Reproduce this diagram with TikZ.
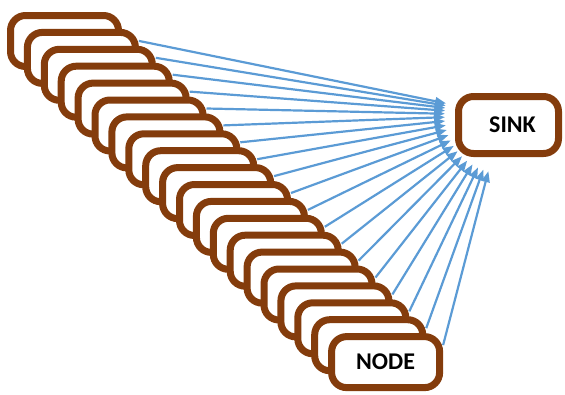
\documentclass[tikz,border=0pt]{standalone}
\usepackage{fontspec}
\setmainfont{Carlito}
\usetikzlibrary{arrows.meta}
\definecolor{boxbrown}{HTML}{843C0C}
\definecolor{arrblue}{HTML}{5B9BD5}
\tikzset{
  stackbox/.style={draw=boxbrown, line width=7pt, fill=white, rounded corners=15pt,
    minimum width=108pt, minimum height=51pt, inner sep=0pt, font=\bfseries\fontsize{24}{26}\selectfont},
  sinkbox/.style={draw=boxbrown, line width=7pt, fill=white, rounded corners=15pt,
    minimum width=100pt, minimum height=57pt, inner sep=0pt, font=\bfseries\fontsize{24}{26}\selectfont},
  arr/.style={draw=arrblue, line width=2.2pt, -{Triangle[length=11pt,width=8pt]}, shorten >=58pt}
}
\begin{document}
\begin{tikzpicture}[x=1pt,y=-1pt]
\useasboundingbox (0,0) rectangle (565,394);
\coordinate (aim) at (503,115);
\foreach \i in {1,...,19}{
  \draw[arr] ({64.5+16.9*\i+57.5},{41+16.9*\i-17}) -- (aim);
}
\foreach \i in {0,...,18}{
  \node[stackbox] (b\i) at ({64.5+16.9*\i},{41+16.9*\i}) {};
}
\node[stackbox] (b19) at ({64.5+16.9*19},{41+16.9*19}) {\raisebox{-2pt}{NODE}};
\node[sinkbox] (sink) at (508.5,125) {\hspace{8pt}SINK};
\end{tikzpicture}
\end{document}
